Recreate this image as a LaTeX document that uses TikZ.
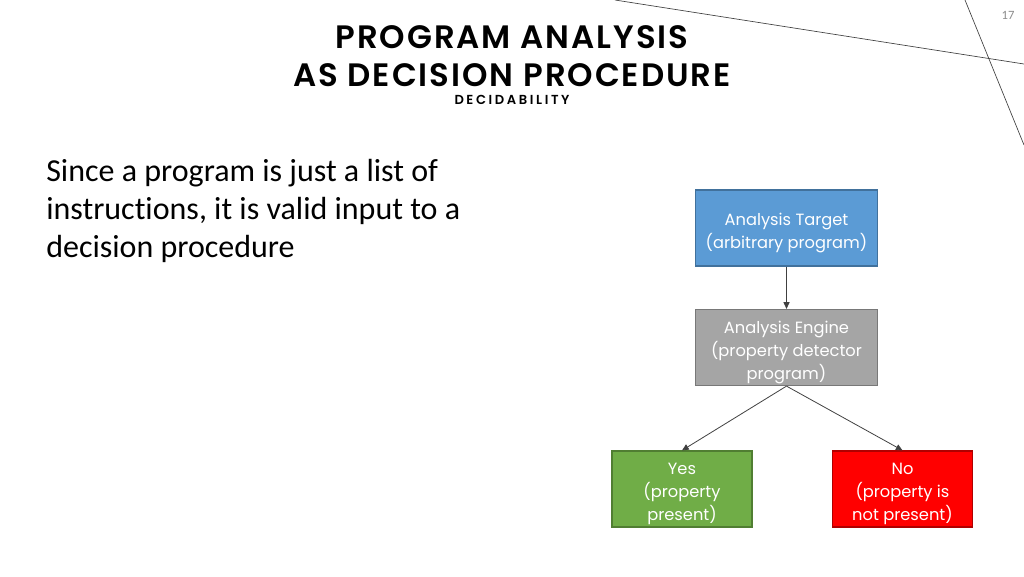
\documentclass[tikz,border=0pt]{standalone}
\usepackage{fontspec}
\setmainfont[Ligatures=NoCommon]{Carlito}
\newfontfamily\titlefont[LetterSpace=6]{Poppins SemiBold}
\newfontfamily\subfont[LetterSpace=20]{Poppins SemiBold}
\newfontfamily\boxfont{Poppins}
\usetikzlibrary{arrows.meta}
\definecolor{cblue}{HTML}{5B9BD5}
\definecolor{cblueb}{HTML}{41719C}
\definecolor{cgray}{HTML}{A5A5A5}
\definecolor{cgrayb}{HTML}{787878}
\definecolor{cgreen}{HTML}{70AD47}
\definecolor{cgreenb}{HTML}{507E32}
\definecolor{cred}{HTML}{FF0000}
\definecolor{credb}{HTML}{B00000}
\definecolor{arrowc}{HTML}{404040}
\newcommand\bxt[1]{\raisebox{-3pt}[\height][\depth]{\begin{tabular}{@{}c@{}}#1\end{tabular}}}
\tikzset{
  box/.style={draw, line width=0.9pt, minimum width=137pt, minimum height=57pt,
    text=white, inner sep=0pt, font=\boxfont\fontsize{12.2}{17.2}\selectfont},
  smallbox/.style={box, minimum width=105pt},
  conn/.style={draw=arrowc, line width=0.6pt, -{Triangle[length=5pt,width=4.5pt]}},
  deco/.style={draw=black!75, line width=0.5pt}
}
\begin{document}
\begin{tikzpicture}[x=0.75pt,y=-0.75pt]
\useasboundingbox (0,0) rectangle (1024,576);
% decorative lines
\coordinate (l1a) at (615,0);
\coordinate (l1b) at (1024,64);
\coordinate (l2a) at (965,0);
\coordinate (l2b) at (1024,145);
\draw[deco] (l1a) -- (l1b);
\draw[deco] (l2a) -- (l2b);
\node[text=black!45, font=\fontsize{9.5}{11}\selectfont] (num) at (1008,15) {17};
% title
\node[font=\titlefont\fontsize{24.3}{29}\selectfont, align=center, inner sep=0pt] (title) at (512,56)
  {PROGRAM ANALYSIS\\AS DECISION PROCEDURE};
\node[font=\subfont\fontsize{9.8}{11}\selectfont, inner sep=0pt] (sub) at (512,100) {DECIDABILITY};
% body text
\node[anchor=north west, align=left, inner sep=0pt, font=\fontsize{24}{28.5}\selectfont] (body) at (46,159)
  {Since a program is just a list of\\instructions, it is valid input to a\\decision procedure};
% boxes
\node[box, fill=cblue, draw=cblueb] (target) at (786.5,228) {\bxt{Analysis Target\\(arbitrary program)}};
\node[box, fill=cgray, draw=cgrayb] (engine) at (786.5,347.5) {\bxt{Analysis Engine\\(property detector\\program)}};
\node[smallbox, fill=cgreen, draw=cgreenb] (yes) at (682,489) {\bxt{Yes\\(property\\present)}};
\node[smallbox, fill=cred, draw=credb] (no) at (902.5,489) {\bxt{No\\(property is\\not present)}};
% connectors
\draw[conn] (target.south) -- (engine.north);
\draw[conn] (engine.south) -- (yes.north);
\draw[conn] (engine.south) -- (no.north);
\end{tikzpicture}
\end{document}
